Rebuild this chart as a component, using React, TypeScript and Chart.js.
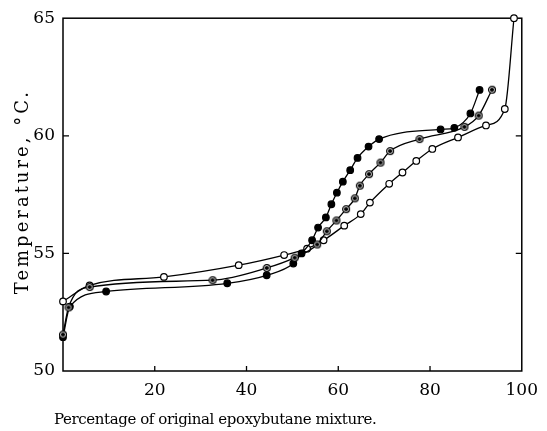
import React, { useEffect, useRef } from "react";
import { Chart, registerables } from "chart.js";

Chart.register(...registerables);

// Filled circles
const filledX = [0, 1.5, 9.4, 35.8, 44.4, 50.2, 52.0, 54.3, 55.6, 57.3, 58.5, 59.7, 61.0, 62.6, 64.2, 66.6, 68.9, 82.3, 85.3, 88.8, 90.8];
const filledY = [51.44, 52.74, 53.38, 53.73, 54.07, 54.57, 55.0, 55.56, 56.1, 56.53, 57.09, 57.58, 58.05, 58.54, 59.06, 59.54, 59.86, 60.27, 60.34, 60.95, 61.95];

// Half-filled circles
const halfX = [0, 1.2, 5.8, 32.6, 44.4, 50.5, 55.4, 57.5, 59.6, 61.7, 63.6, 64.7, 66.7, 69.2, 71.3, 77.7, 87.5, 90.6, 93.5];
const halfY = [51.55, 52.7, 53.57, 53.86, 54.38, 54.82, 55.38, 55.94, 56.4, 56.88, 57.34, 57.88, 58.37, 58.86, 59.35, 59.86, 60.38, 60.86, 61.96];

// Open circles
const openX = [0, 5.8, 22, 38.3, 48.2, 53.2, 56.8, 61.3, 64.9, 66.9, 71.1, 74, 77, 80.5, 86.1, 92.2, 96.3, 98.3];
const openY = [52.96, 53.64, 54.0, 54.5, 54.93, 55.2, 55.56, 56.18, 56.67, 57.16, 57.96, 58.44, 58.93, 59.44, 59.93, 60.44, 61.14, 65.0];

const xTickValues = [0, 20, 40, 60, 80, 100];
const xTickLabels = ["", "20", "40", "60", "80", "100"];
const yTickValues = [50, 55, 60, 65];

const xTitle = "Percentage of original epoxybutane mixture.";
const yTitle = "Temperature, °C.";

const FONT = "'DejaVu Serif', serif";

function pts(xs: number[], ys: number[]) {
  return xs.map((x, i) => ({ x, y: ys[i] }));
}

function makeHalfMarker(): HTMLCanvasElement {
  const c = document.createElement("canvas");
  c.width = 10;
  c.height = 10;
  const g = c.getContext("2d")!;
  g.beginPath();
  g.arc(5, 5, 3.4, 0, Math.PI * 2);
  g.fillStyle = "#fff";
  g.fill();
  g.lineWidth = 1.3;
  g.strokeStyle = "#000";
  g.stroke();
  g.beginPath();
  g.arc(5, 5, 2.1, 0, Math.PI * 2);
  g.fillStyle = "#000";
  g.fill();
  return c;
}

const framePlugin = {
  id: "frame",
  beforeDatasetsDraw(chart: any) {
    const { ctx, chartArea } = chart;
    const { left, right, top, bottom } = chartArea;
    const xs = chart.scales.x;
    const ys = chart.scales.y;
    ctx.save();
    ctx.strokeStyle = "#000";
    ctx.lineWidth = 1.5;
    ctx.strokeRect(left, top, right - left, bottom - top);
    ctx.lineWidth = 1.3;
    ctx.beginPath();
    xs.ticks.forEach((t: any) => {
      if (t.value <= xs.min || t.value >= xs.max) return;
      const p = xs.getPixelForValue(t.value);
      ctx.moveTo(p, bottom);
      ctx.lineTo(p, bottom - 5);
    });
    ys.ticks.forEach((t: any) => {
      if (t.value <= ys.min || t.value >= ys.max) return;
      const p = ys.getPixelForValue(t.value);
      ctx.moveTo(left, p);
      ctx.lineTo(left + 6, p);
      ctx.moveTo(right, p);
      ctx.lineTo(right - 6, p);
    });
    ctx.stroke();
    ctx.restore();
  },
  afterDraw(chart: any) {
    const { ctx, chartArea } = chart;
    ctx.save();
    ctx.fillStyle = "#000";
    ctx.font = `15px ${FONT}`;
    ctx.textAlign = "left";
    ctx.textBaseline = "alphabetic";
    (ctx as any).letterSpacing = "-0.4px";
    ctx.fillText(xTitle, 54, 424);
    ctx.translate(28, (chartArea.top + chartArea.bottom) / 2 - 3);
    ctx.rotate(-Math.PI / 2);
    ctx.textAlign = "center";
    ctx.font = `18px ${FONT}`;
    (ctx as any).letterSpacing = "3px";
    ctx.fillText(yTitle, 0, 0);
    ctx.restore();
  },
};

export default function App() {
  const ref = useRef<HTMLCanvasElement | null>(null);
  useEffect(() => {
    document.body.style.margin = "0";
    const half = makeHalfMarker();
    const common = {
      showLine: true,
      borderColor: "#000",
      borderWidth: 1.3,
      cubicInterpolationMode: "monotone" as const,
      pointRadius: 3.3,
      pointBorderColor: "#000",
      pointBorderWidth: 1.2,
      clip: false as any,
    };
    const chart = new Chart(ref.current!, {
      type: "scatter",
      data: {
        datasets: [
          { ...common, label: "half", data: pts(halfX, halfY), pointStyle: half as any, pointBackgroundColor: "#fff" },
          { ...common, label: "filled", data: pts(filledX, filledY), pointStyle: "circle", pointBackgroundColor: "#000" },
          { ...common, label: "open", data: pts(openX, openY), pointStyle: "circle", pointBackgroundColor: "#fff" },
        ],
      },
      options: {
        animation: false,
        responsive: false,
        layout: { padding: { left: 0, right: 20, top: 15, bottom: 0 } },
        plugins: { legend: { display: false }, tooltip: { enabled: false } },
        scales: {
          x: {
            type: "linear",
            min: 0,
            max: 100,
            afterBuildTicks: (s: any) => {
              s.ticks = xTickValues.map((v) => ({ value: v }));
            },
            afterFit: (s: any) => {
              s.height = 60;
            },
            ticks: {
              color: "#000",
              font: { family: FONT, size: 17 },
              padding: 9,
              maxRotation: 0,
              callback: (v: any) => {
                const i = xTickValues.indexOf(Number(v));
                return i >= 0 ? xTickLabels[i] : "";
              },
            },
            grid: { display: false, drawTicks: false },
            border: { display: false },
          },
          y: {
            type: "linear",
            min: 50,
            max: 65,
            afterBuildTicks: (s: any) => {
              s.ticks = yTickValues.map((v) => ({ value: v }));
            },
            afterFit: (s: any) => {
              s.width = 63;
            },
            ticks: {
              color: "#000",
              font: { family: FONT, size: 17 },
              padding: 8,
            },
            grid: { display: false, drawTicks: false },
            border: { display: false },
          },
        },
      },
      plugins: [framePlugin],
    });
    return () => chart.destroy();
  }, []);
  return (
    <div style={{ width: 547, height: 431 }}>
      <canvas ref={ref} width={547} height={431} />
    </div>
  );
}
